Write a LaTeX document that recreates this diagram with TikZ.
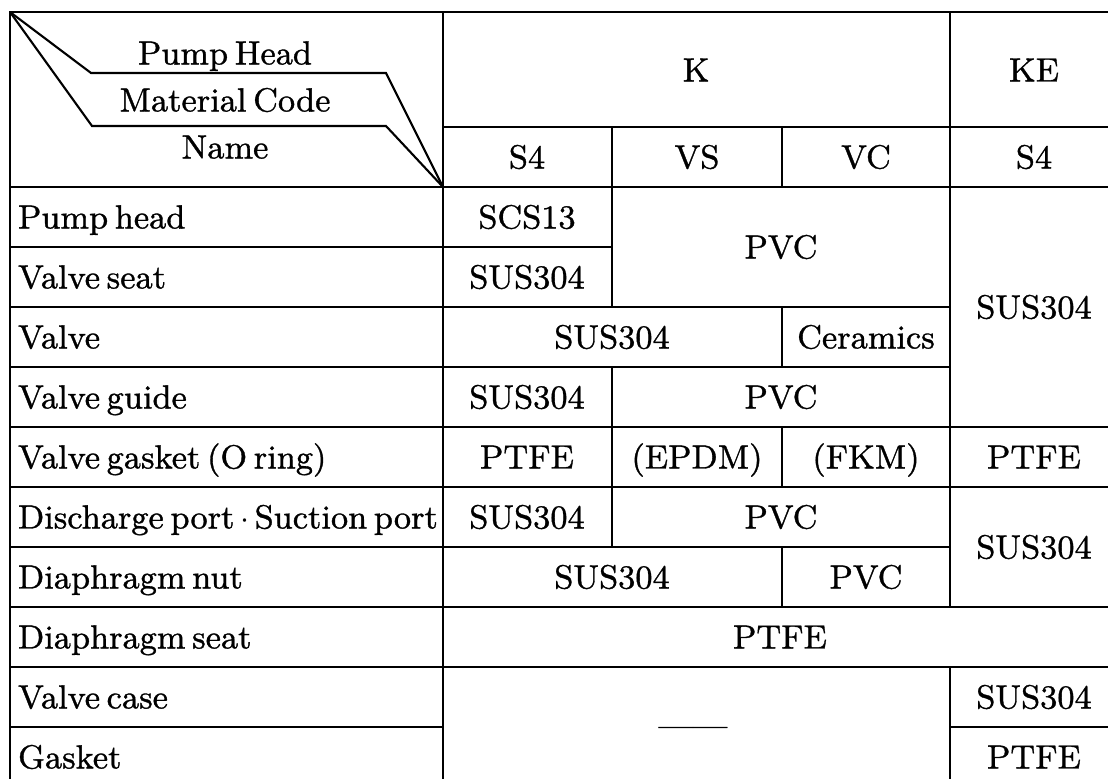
\documentclass[tikz,border=0pt]{standalone}
\usepackage{fontspec}
\setmainfont{Latin Modern Roman}[FakeBold=1]
\newcommand\cellfont{\fontsize{9.5}{11}\selectfont\spaceskip 0.2em\relax}
\begin{document}
\begin{tikzpicture}[x=0.01cm,y=-0.01cm,line width=0.6pt,
  cell/.style={font=\cellfont,inner sep=0pt,text height=6.5pt,text depth=0pt},
  partname/.style={cell,anchor=west}]
\useasboundingbox (0,0) rectangle (1108,779);
\clip (0,0) rectangle (1108,779);

% frame and header
\draw (1118,12) -- (10,12) -- (10,787);
\draw (443,12) -- (443,787);
\draw (950,12) -- (950,607);
\draw (443,127) -- (1118,127);
\draw (612,127) -- (612,187) (782,127) -- (782,187);
\draw (10,187) -- (1118,187);
\draw (10,12) -- (91,73) -- (386,73) -- (443,187);
\draw (10,12) -- (92,126) -- (386,126) -- (443,187);

\node[cell] (hhead) at (225,53) {Pump Head};
\node[cell] (hcode) at (225,100) {Material Code};
\node[cell] (hname) at (225,147) {Name};
\node[cell] (k) at (696,70) {K};
\node[cell] (ke) at (1034,70) {KE};
\node[cell] (ks4) at (527,157) {S4};
\node[cell] (kvs) at (697,157) {VS};
\node[cell] (kvc) at (866,157) {VC};
\node[cell] (kes4) at (1034,157) {S4};

% row lines
\foreach \y in {247,307,...,727} \draw (10,\y) -- (443,\y);
\draw (443,247) -- (612,247);
\draw (443,307) -- (950,307) (443,367) -- (950,367) (443,547) -- (950,547);
\draw (443,427) -- (1118,427) (443,487) -- (1118,487);
\draw (10,607) -- (1118,607) (10,667) -- (1118,667);
\draw (950,727) -- (1118,727);
% column lines
\draw (612,187) -- (612,307) (612,367) -- (612,547);
\draw (782,307) -- (782,367) (782,427) -- (782,487) (782,547) -- (782,607);
\draw (950,667) -- (950,787);

% part names
\foreach \t [count=\i] in {Pump head,Valve seat,Valve,Valve guide,Valve gasket (O ring),
    Discharge port\,$\cdot$\,Suction port,Diaphragm nut,Diaphragm seat,Valve case,Gasket}
  \node[partname] (p\i) at (17,157+60*\i) {\t};

% materials
\node[cell] (scs) at (527,217) {SCS13};
\node[cell] (pvca) at (781,247) {PVC};
\node[cell] (susa) at (1034,307) {SUS304};
\node[cell] (susb) at (527,277) {SUS304};
\node[cell] (susc) at (612,337) {SUS304};
\node[cell] (cer) at (866,337) {Ceramics};
\node[cell] (susd) at (527,397) {SUS304};
\node[cell] (pvcb) at (781,397) {PVC};
\node[cell] (ptfea) at (527,457) {PTFE};
\node[cell] (epdm) at (697,457) {(EPDM)};
\node[cell] (fkm) at (866,457) {(FKM)};
\node[cell] (ptfeb) at (1034,457) {PTFE};
\node[cell] (suse) at (527,517) {SUS304};
\node[cell] (pvcc) at (781,517) {PVC};
\node[cell] (susf) at (1034,547) {SUS304};
\node[cell] (susg) at (612,577) {SUS304};
\node[cell] (pvcd) at (866,577) {PVC};
\node[cell] (ptfec) at (780,637) {PTFE};
\node[cell] (none) at (693,725) {——};
\node[cell] (sush) at (1034,697) {SUS304};
\node[cell] (ptfed) at (1034,757) {PTFE};
\end{tikzpicture}
\end{document}
